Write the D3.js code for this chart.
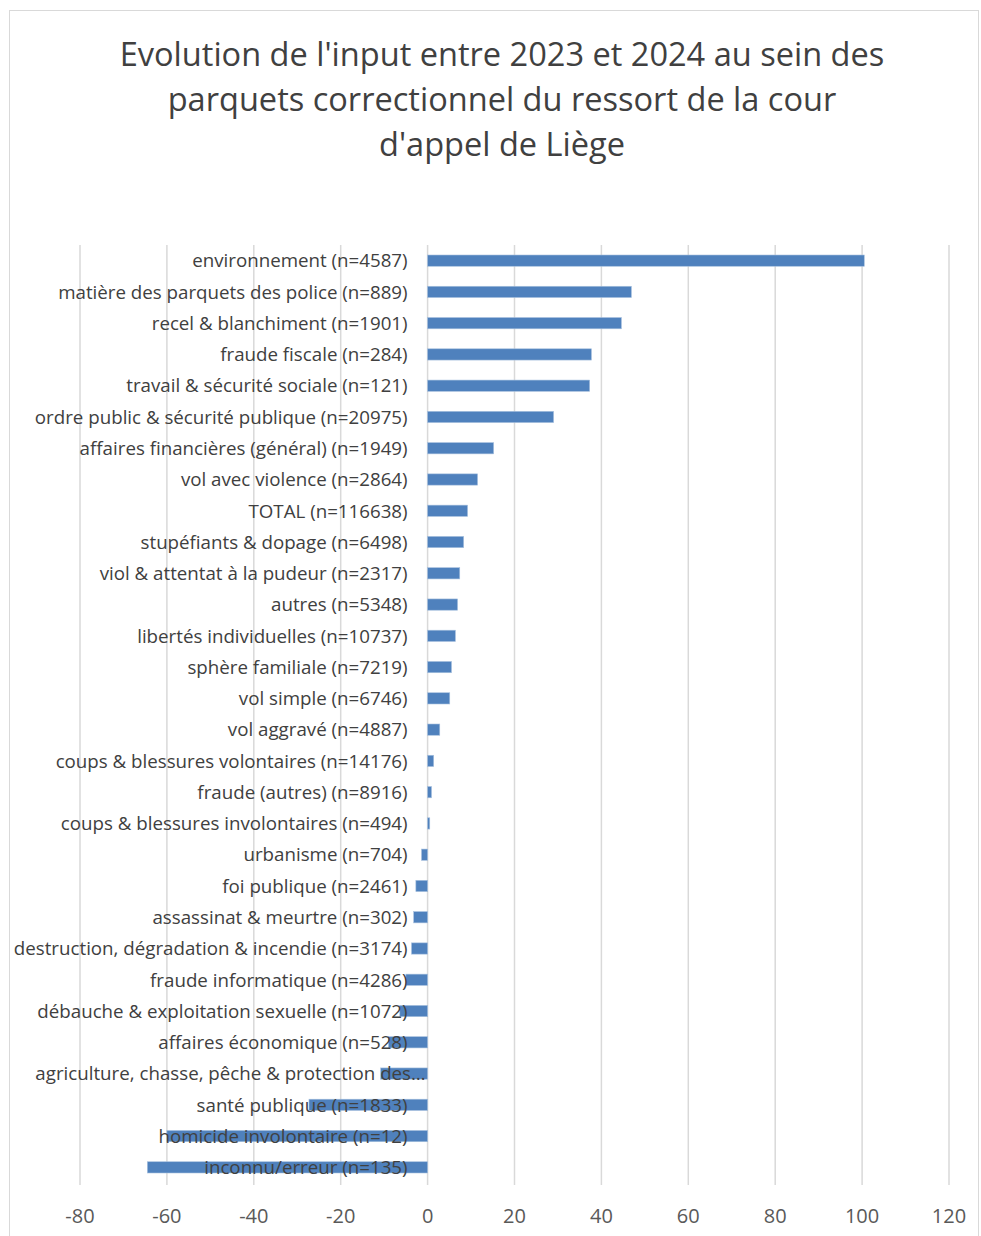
<!DOCTYPE html>
<html>
<head>
<meta charset="utf-8">
<script src="https://cdn.jsdelivr.net/npm/d3@7"></script>
<style>
  body { margin: 0; background: #fff; }
  svg { display: block; }
  text { font-family: "Liberation Sans Narrow", "Open Sans", sans-serif; }
</style>
</head>
<body>
<svg></svg>
<script>
const width = 981;
const height = 1236;

const titleLines = [
  "Evolution de l'input entre 2023 et 2024 au sein des",
  "parquets correctionnel du ressort de la cour",
  "d'appel de Liège"
];

const categories = [
  "environnement (n=4587)",
  "matière des parquets des police (n=889)",
  "recel & blanchiment (n=1901)",
  "fraude fiscale (n=284)",
  "travail & sécurité sociale (n=121)",
  "ordre public & sécurité publique (n=20975)",
  "affaires financières (général) (n=1949)",
  "vol avec violence (n=2864)",
  "TOTAL (n=116638)",
  "stupéfiants & dopage (n=6498)",
  "viol & attentat à la pudeur (n=2317)",
  "autres (n=5348)",
  "libertés individuelles (n=10737)",
  "sphère familiale (n=7219)",
  "vol simple (n=6746)",
  "vol aggravé (n=4887)",
  "coups & blessures volontaires (n=14176)",
  "fraude (autres) (n=8916)",
  "coups & blessures involontaires (n=494)",
  "urbanisme (n=704)",
  "foi publique (n=2461)",
  "assassinat & meurtre (n=302)",
  "destruction, dégradation & incendie (n=3174)",
  "fraude informatique (n=4286)",
  "débauche & exploitation sexuelle (n=1072)",
  "affaires économique (n=528)",
  "agriculture, chasse, pêche & protection des…",
  "santé publique (n=1833)",
  "homicide involontaire (n=12)",
  "inconnu/erreur (n=135)"
];

const values = [
  100.5, 46.9, 44.6, 37.7, 37.3, 29.0, 15.2, 11.5, 9.2, 8.3,
  7.4, 6.9, 6.4, 5.5, 5.1, 2.8, 1.4, 0.9, 0.5, -1.4,
  -2.7, -3.2, -3.7, -5.0, -6.4, -9.0, -10.8, -27.3, -60.0, -64.5
];

const xTicks = [-80, -60, -40, -20, 0, 20, 40, 60, 80, 100, 120];

const data = categories.map((c, i) => ({ cat: c, value: values[i] }));

const svg = d3.select("svg").attr("width", width).attr("height", height);

// chart area border
svg.append("rect")
  .attr("x", 9.5).attr("y", 10.5)
  .attr("width", 969).attr("height", 1240)
  .attr("fill", "#fff")
  .attr("stroke", "#d9d9d9");

const x = d3.scaleLinear().domain([-80, 120]).range([80, 949]);
const y = d3.scaleBand().domain(categories).range([245, 1183]).paddingInner(0.64).paddingOuter(0.32);

// title
const title = svg.append("g")
  .attr("fill", "#404040")
  .attr("font-size", 34)
  .attr("text-anchor", "middle");
title.selectAll("text")
  .data(titleLines)
  .join("text")
  .attr("x", 502)
  .attr("y", (d, i) => 66 + i * 45)
  .text(d => d);
// fit title width to the reference
const t0 = title.select("text").node().getComputedTextLength();
title.attr("font-size", 34 * 765 / t0);

// gridlines
svg.append("g")
  .selectAll("line")
  .data(xTicks)
  .join("line")
  .attr("x1", d => x(d)).attr("x2", d => x(d))
  .attr("y1", 245).attr("y2", 1185)
  .attr("stroke", "#d9d9d9")
  .attr("stroke-width", 1.5);

// bars
svg.append("g")
  .selectAll("rect")
  .data(data)
  .join("rect")
  .attr("x", d => x(Math.min(0, d.value)))
  .attr("y", d => y(d.cat))
  .attr("width", d => Math.abs(x(d.value) - x(0)))
  .attr("height", y.bandwidth())
  .attr("fill", "#4f81bd")
  .attr("stroke", "#a7c0de")
  .attr("stroke-width", 0.6);

// category labels (drawn over bars, next to axis like Excel)
const labels = svg.append("g")
  .attr("fill", "#404040")
  .attr("font-size", 19)
  .attr("text-anchor", "end");
labels.selectAll("text")
  .data(data)
  .join("text")
  .attr("x", d => d.cat.endsWith("…") ? x(0) - 2 : x(0) - 20)
  .attr("y", d => y(d.cat) + y.bandwidth() / 2)
  .attr("dy", "0.36em")
  .text(d => d.cat);
const l0 = labels.selectAll("text").filter(d => d.cat.startsWith("ordre")).node().getComputedTextLength();
labels.attr("font-size", 19 * 373 / l0);

// x axis tick labels
svg.append("g")
  .attr("fill", "#595959")
  .attr("font-size", 20)
  .attr("text-anchor", "middle")
  .selectAll("text")
  .data(xTicks)
  .join("text")
  .attr("x", d => x(d))
  .attr("y", 1223)
  .text(d => d);
</script>
</body>
</html>
